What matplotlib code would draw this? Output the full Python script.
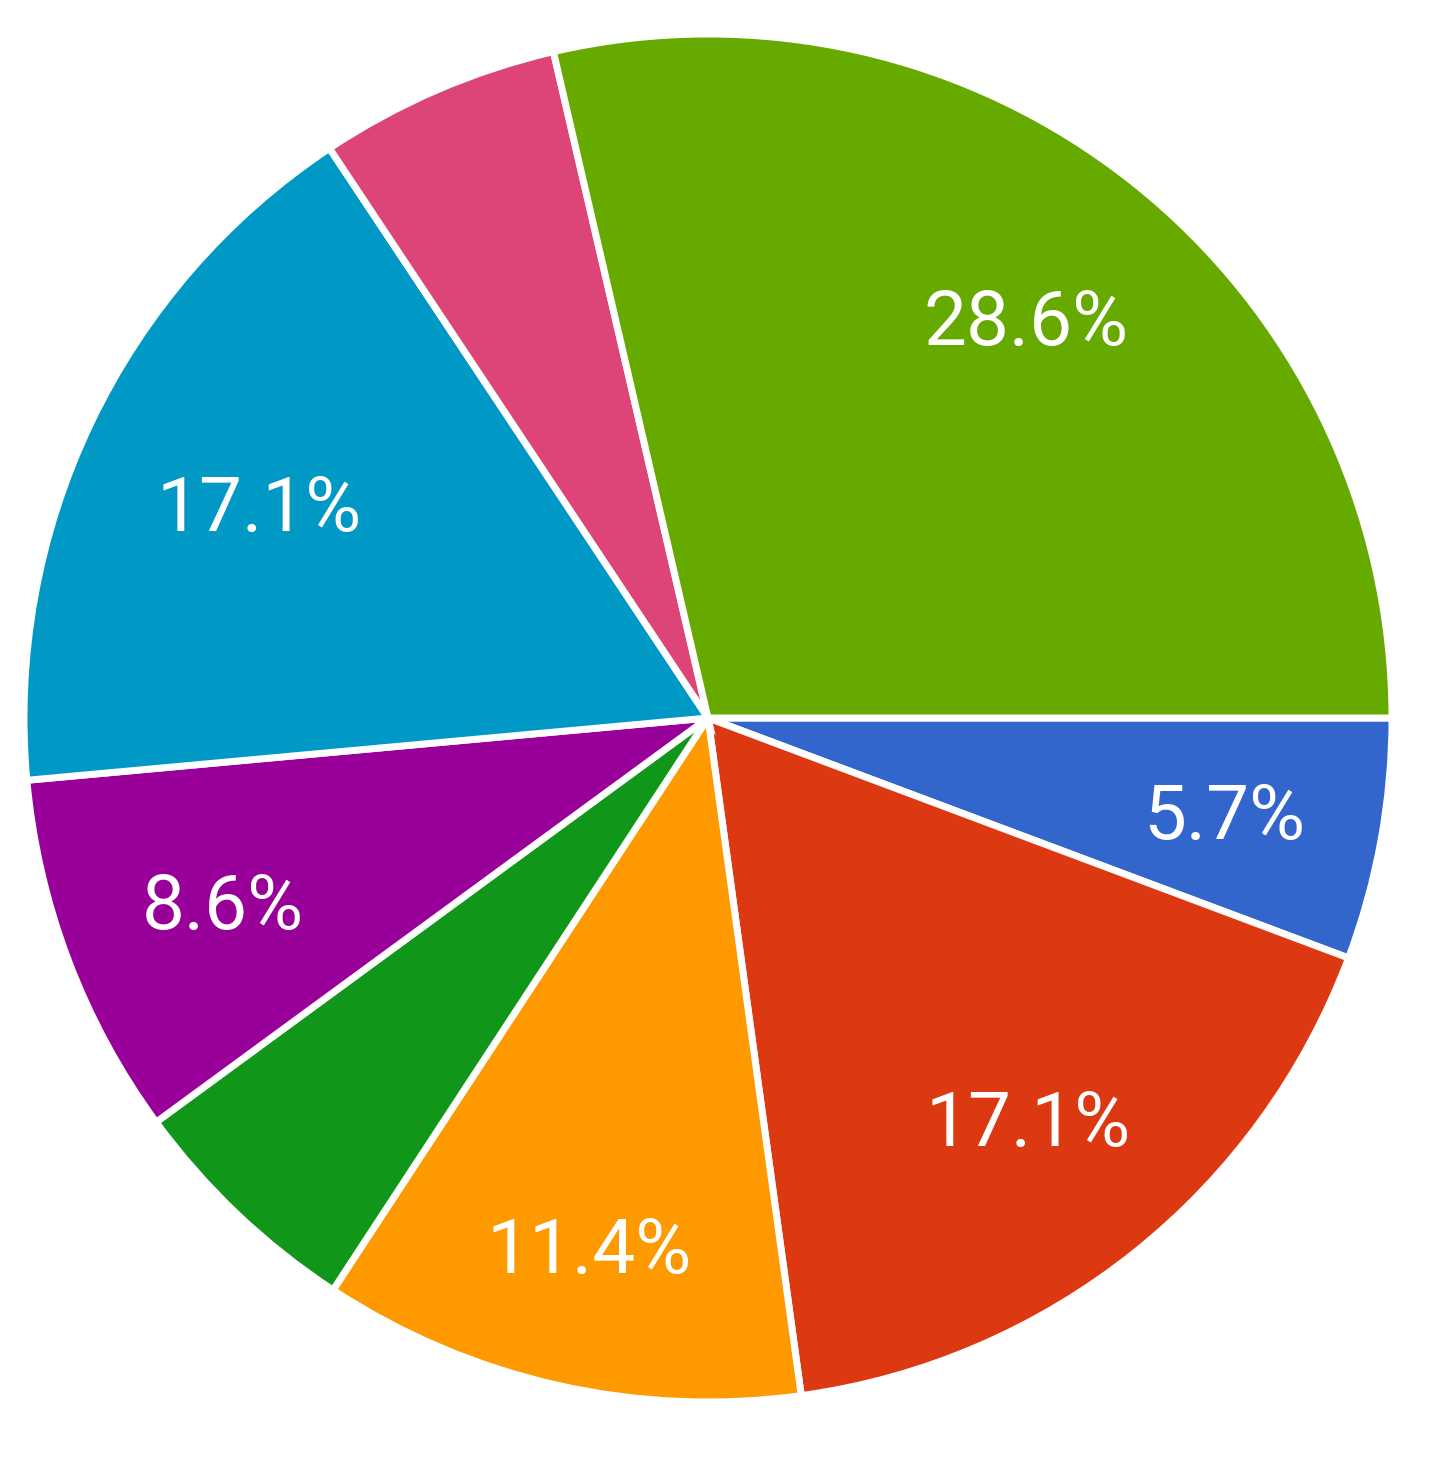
import matplotlib
matplotlib.use("Agg")
import matplotlib.pyplot as plt
import numpy as np

# slice values in percent, clockwise from 3 o'clock
shares = [5.7, 17.1, 11.4, 5.7, 8.6, 17.1, 5.7, 28.6]
colors = ["#3366cc", "#dc3912", "#ff9900", "#109618",
          "#990099", "#0099c6", "#dd4477", "#66aa00"]
# Google hides the label on two of the small slices
show_label = [True, True, True, False, True, True, False, True]
# radial position of each label (fraction of radius), as Google placed them
label_dist = [0.767, 0.749, 0.791, 0.75, 0.758, 0.727, 0.75, 0.747]

W, H = 1439, 1463
fig = plt.figure(figsize=(W / 100, H / 100), dpi=100)

cx, cy, r = 708, 1463 - 718, 684
ax = fig.add_axes([(cx - r) / W, (cy - r) / H, 2 * r / W, 2 * r / H])

wedges, _ = ax.pie(
    shares,
    colors=colors,
    startangle=0,
    counterclock=False,
    radius=1.0,
    wedgeprops=dict(edgecolor="white", linewidth=5),
)

# half of the digit height in data units, so the baseline sits under the centre
half_digit = 27.5 / r
for w, v, show, d in zip(wedges, shares, show_label, label_dist):
    if not show:
        continue
    mid = np.deg2rad((w.theta1 + w.theta2) / 2)
    ax.text(d * np.cos(mid), d * np.sin(mid) - half_digit, f"{v:.1f}%",
            ha="center", va="baseline", color="white",
            fontsize=55, family="Roboto")

ax.set_xlim(-1, 1)
ax.set_ylim(-1, 1)
ax.set_aspect("equal")
ax.axis("off")

fig.savefig("out.png", dpi=100, facecolor="white")
